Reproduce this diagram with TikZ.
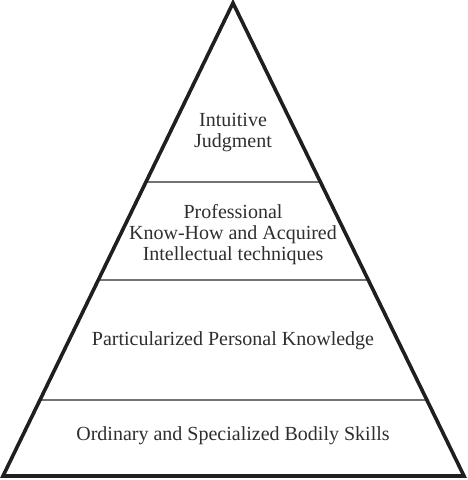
\documentclass[tikz,border=0pt]{standalone}
\usepackage{fontspec}
\setmainfont{Liberation Serif}
\usetikzlibrary{calc}

\begin{document}
\begin{tikzpicture}[x=1pt, y=1pt,
    layer/.style={draw=black!55, line width=1.2pt},
    pyr/.style={draw=black!88, line width=3.6pt, line join=miter},
    lvl/.style={align=center, text=black!82, font=\fontsize{20}{21}\selectfont}
]
\useasboundingbox (0,0) rectangle (467,-480);
\coordinate (apex) at (233,-3);
\coordinate (bl) at (3,-476);
\coordinate (br) at (464,-476);

% dividing lines
\coordinate (l1) at ($(apex)!0.3784!(bl)$);
\coordinate (r1) at ($(apex)!0.3784!(br)$);
\coordinate (l2) at ($(apex)!0.5856!(bl)$);
\coordinate (r2) at ($(apex)!0.5856!(br)$);
\coordinate (l3) at ($(apex)!0.8393!(bl)$);
\coordinate (r3) at ($(apex)!0.8393!(br)$);
\draw[layer] (l1) -- (r1);
\draw[layer] (l2) -- (r2);
\draw[layer] (l3) -- (r3);

\draw[pyr] (apex) -- (bl) -- (br) -- cycle;

\node[lvl] (judg) at (233,-133) {Intuitive\\Judgment};
\node[lvl] (prof) at (233,-235) {Professional\\Know-How and Acquired\\Intellectual techniques};
\node[lvl] (pers) at (233,-341) {Particularized Personal Knowledge};
\node[lvl] (body) at (233,-436) {Ordinary and Specialized Bodily Skills};
\end{tikzpicture}
\end{document}
